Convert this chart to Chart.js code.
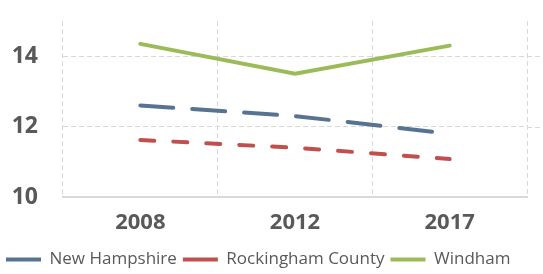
<!DOCTYPE html>
<html>
<head>
<meta charset="utf-8">
<script src="https://cdn.jsdelivr.net/npm/chart.js@4.4.1/dist/chart.umd.min.js"></script>
<style>
html,body{margin:0;padding:0;background:#fff;}
#wrap{width:543px;height:274px;position:relative;}
</style>
</head>
<body>
<div id="wrap"><canvas id="c" width="543" height="274"></canvas></div>
<script>
const categories = ['2008', '2012', '2017'];
const newHampshire = [12.6, 12.3, 11.8];
const rockingham = [11.62, 11.4, 11.08];
const windham = [14.35, 13.5, 14.3];
const seriesNames = ['New Hampshire', 'Rockingham County', 'Windham'];
const yTicks = [10, 12, 14];

const gridColor = '#d9d9d9';
const textColor = '#595959';

const extendGrid = {
  id: 'extendGrid',
  beforeDatasetsDraw(chart) {
    const {ctx, chartArea, scales} = chart;
    ctx.save();
    ctx.strokeStyle = gridColor;
    ctx.lineWidth = 1;
    ctx.setLineDash([5, 3]);
    yTicks.forEach(v => {
      if (v === 10) return;
      const y = Math.round(scales.y.getPixelForValue(v)) + 0.5;
      ctx.beginPath();
      ctx.moveTo(chartArea.right, y);
      ctx.lineTo(chart.width, y);
      ctx.stroke();
    });
    ctx.restore();
  }
};

new Chart(document.getElementById('c'), {
  type: 'line',
  data: {
    labels: categories,
    datasets: [
      {label: seriesNames[0], data: newHampshire, borderColor: '#587291', backgroundColor: '#587291', borderWidth: 4, borderDash: [33, 19], borderCapStyle: 'round', pointRadius: 0, tension: 0},
      {label: seriesNames[1], data: rockingham, borderColor: '#c0504d', backgroundColor: '#c0504d', borderWidth: 4, borderDash: [14, 19], borderCapStyle: 'round', pointRadius: 0, tension: 0},
      {label: seriesNames[2], data: windham, borderColor: '#9bbb59', backgroundColor: '#9bbb59', borderWidth: 4, borderCapStyle: 'round', pointRadius: 0, tension: 0}
    ]
  },
  options: {
    responsive: false,
    animation: false,
    devicePixelRatio: 1,
    layout: {padding: {top: 21, right: 0, left: 0, bottom: -4}},
    plugins: {
      tooltip: {enabled: false},
      legend: {
        position: 'bottom',
        align: 'start',
        labels: {
          usePointStyle: true,
          pointStyle: 'line',
          pointStyleWidth: 35,
          boxHeight: 17,
          padding: 6,
          color: textColor,
          font: {family: "'Open Sans', sans-serif", size: 17}
        }
      }
    },
    scales: {
      x: {
        offset: true,
        grid: {
          offset: true,
          drawTicks: false,
          color: ctx => ctx.index === 3 ? 'rgba(0,0,0,0)' : gridColor,
          lineWidth: 1
        },
        border: {display: true, color: gridColor, width: 2, dash: [5, 3]},
        ticks: {
          padding: 13,
          color: textColor,
          font: {family: "'Open Sans', sans-serif", size: 22, weight: 'bold'}
        },
        afterFit(scale) { scale.height = 48; }
      },
      y: {
        min: 10,
        max: 15,
        afterBuildTicks(scale) { scale.ticks = yTicks.map(v => ({value: v})); },
        grid: {
          drawTicks: false,
          color: ctx => (ctx.tick && ctx.tick.value === 10) ? 'rgba(0,0,0,0)' : gridColor,
          lineWidth: 1
        },
        border: {display: false, dash: [5, 3]},
        ticks: {
          padding: 25,
          color: textColor,
          font: {family: "'Open Sans', sans-serif", size: 23, weight: 'bold'}
        },
        afterFit(scale) { scale.width = 63; scale.paddingTop = 0; scale.paddingBottom = 0; }
      },
      yRight: {
        position: 'right',
        min: 0,
        max: 1,
        grid: {display: false, drawTicks: false},
        border: {display: false},
        ticks: {display: false},
        afterFit(scale) { scale.width = 16; scale.paddingTop = 0; scale.paddingBottom = 0; }
      }
    }
  },
  plugins: [extendGrid]
});
</script>
</body>
</html>
